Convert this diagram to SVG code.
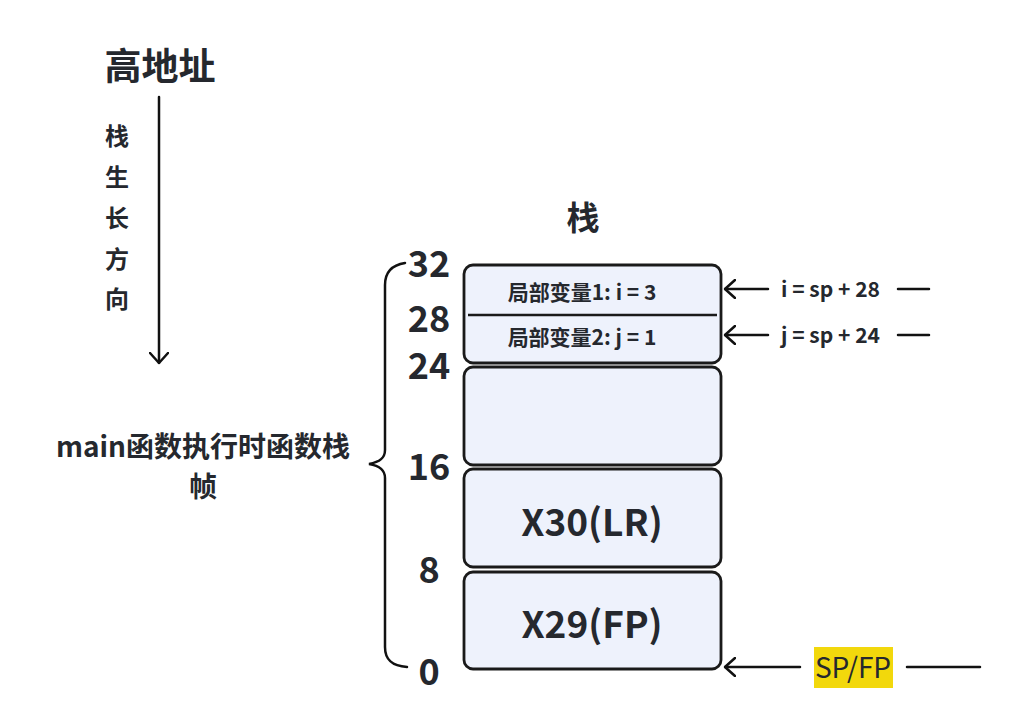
<svg xmlns="http://www.w3.org/2000/svg" width="1027" height="701" viewBox="0 0 1027 701">
<style>
text{font-family:"Noto Sans CJK SC","Noto Sans",sans-serif;fill:#25282e}
.box{fill:#eef2fc;stroke:#1a1a1a;stroke-width:2.8}
.ln{stroke:#111;stroke-width:2.5;fill:none;stroke-linecap:round}
.num{font-size:36px;font-weight:700;text-anchor:middle}
.big{font-size:37px;font-weight:700;text-anchor:middle}
.lbl{font-size:21px;font-weight:600;text-anchor:middle}
.side{font-size:21px;font-weight:600}
.vt{font-size:24px;font-weight:600;text-anchor:middle}
</style>
<defs>
<marker id="ah" viewBox="0 0 12 20" refX="11" refY="10" markerWidth="12" markerHeight="20" markerUnits="userSpaceOnUse" orient="auto">
<path d="M1 1 L11 10 L1 19" fill="none" stroke="#111" stroke-width="2.5" stroke-linecap="round" stroke-linejoin="round"/>
</marker>
</defs>
<rect width="1027" height="701" fill="#fff"/>
<g id="title-high"><text x="160" y="80" font-size="37" font-weight="700" text-anchor="middle">高地址</text></g>
<g id="growth"><text class="vt" x="117" y="145">栈</text><text class="vt" x="117" y="186">生</text><text class="vt" x="117" y="227">长</text><text class="vt" x="117" y="268">方</text><text class="vt" x="117" y="308">向</text></g>
<g id="frame-label"><text x="203" y="457" font-size="28" font-weight="700" text-anchor="middle">main函数执行时函数栈</text><text x="203" y="497" font-size="28" font-weight="700" text-anchor="middle">帧</text></g>
<g id="stack-title"><text x="583" y="230" font-size="33" font-weight="700" text-anchor="middle">栈</text></g>
<g id="offsets"><text class="num" x="429" y="277">32</text><text class="num" x="429" y="332">28</text><text class="num" x="429" y="379">24</text><text class="num" x="429" y="480">16</text><text class="num" x="429" y="583">8</text><text class="num" x="429" y="685">0</text></g>
<g id="box-locals"><rect class="box" x="464" y="265" width="257" height="98" rx="9"/><line x1="468" y1="315" x2="717" y2="315" stroke="#1a1a1a" stroke-width="2.5"/><text class="lbl" x="582" y="300">局部变量1: i = 3</text><text class="lbl" x="582" y="345">局部变量2: j = 1</text></g>
<g id="box-empty"><rect class="box" x="464" y="367" width="257" height="98" rx="9"/></g>
<g id="box-lr"><rect class="box" x="464" y="469" width="257" height="98" rx="9"/><text class="big" x="592" y="536">X30(LR)</text></g>
<g id="box-fp"><rect class="box" x="464" y="572" width="257" height="97" rx="9"/><text class="big" x="592" y="638">X29(FP)</text></g>
<g id="sp-label"><rect x="814" y="647" width="79" height="41" fill="#f2d80c"/><text x="853" y="678" font-size="28" text-anchor="middle">SP/FP</text></g>
<g id="side-labels"><text class="side" x="781" y="297">i = sp + 28</text><text class="side" x="781" y="343">j = sp + 24</text></g>
<g id="connectors">
<line class="ln" x1="159" y1="97" x2="159" y2="363" marker-end="url(#ah)"/>
<path class="ln" d="M405 263 C392 265 385 272 385 285 L385 450 C385 458 380 462 369 464 C380 466 385 470 385 478 L385 647 C385 660 392 666 407 667"/>
<line class="ln" x1="768" y1="289" x2="725" y2="289" marker-end="url(#ah)"/>
<line class="ln" x1="898" y1="289" x2="929" y2="289"/>
<line class="ln" x1="768" y1="335" x2="725" y2="335" marker-end="url(#ah)"/>
<line class="ln" x1="898" y1="335" x2="929" y2="335"/>
<line class="ln" x1="800" y1="667" x2="725" y2="667" marker-end="url(#ah)"/>
<line class="ln" x1="907" y1="667" x2="980" y2="667"/>
</g>
</svg>
